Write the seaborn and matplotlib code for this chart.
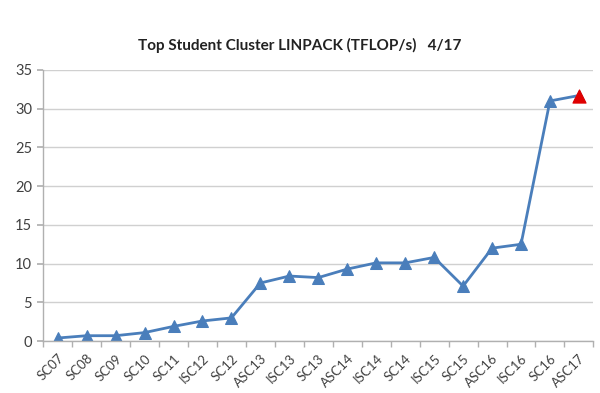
import matplotlib
matplotlib.use("Agg")
import matplotlib.pyplot as plt
import seaborn as sns
import pandas as pd
import numpy as np

competitions = ["SC07", "SC08", "SC09", "SC10", "SC11", "ISC12", "SC12", "ASC13", "ISC13",
                "SC13", "ASC14", "ISC14", "SC14", "ISC15", "SC15", "ASC16", "ISC16", "SC16", "ASC17"]
tflops = [0.4, 0.7, 0.7, 1.1, 1.9, 2.6, 3.0, 7.5, 8.4, 8.2, 9.3, 10.1, 10.1, 10.8, 7.1,
          12.0, 12.5, 31.0, 31.7]
y_ticks = [0, 5, 10, 15, 20, 25, 30, 35]

sns.set_theme(style="white")
plt.rcParams['font.family'] = ['Lato', 'DejaVu Sans']

df = pd.DataFrame({"idx": np.arange(len(competitions)), "comp": competitions, "val": tflops})

fig = plt.figure(figsize=(6.0, 3.93), dpi=100)
ax = fig.add_axes([0.072, 0.132, 0.917, 0.69])

line_color = "#4a7ebb"
sns.lineplot(data=df, x="idx", y="val", ax=ax, color=line_color, linewidth=2.0,
             marker="^", markersize=9, markeredgecolor=line_color, markerfacecolor=line_color)
last = df.iloc[[-1]]
sns.scatterplot(data=last, x="idx", y="val", ax=ax, marker="^", s=90, color="#e00000",
                edgecolor="#e00000", zorder=5)

ax.set_xlim(-0.5, len(competitions) - 0.5)
ax.set_ylim(0, 35)
ax.set_yticks(y_ticks)
ax.set_yticklabels([str(v) for v in y_ticks], fontsize=10.5, color="#404040")
ax.set_xticks(df["idx"])
ax.set_xticklabels(competitions, rotation=45, ha="right", rotation_mode="anchor",
                   fontsize=9.5, color="#404040")
ax.set_xticks(np.arange(-0.5, len(competitions), 1.0), minor=True)
ax.tick_params(axis="x", which="major", length=0, pad=8)
ax.tick_params(axis="x", which="minor", length=4, color="#b0b0b0", direction="out", bottom=True)
ax.tick_params(axis="y", which="major", length=4, color="#b0b0b0", direction="out", left=True, pad=4)

ax.grid(axis="y", color="#d0d0d0", linewidth=1.0)
ax.grid(axis="x", visible=False)
for s in ["top", "right"]:
    ax.spines[s].set_visible(False)
for s in ["left", "bottom"]:
    ax.spines[s].set_color("#b0b0b0")
    ax.spines[s].set_linewidth(1.0)
ax.set_axisbelow(True)
ax.set_xlabel("")
ax.set_ylabel("")

fig.text(0.5, 0.885, "Top Student Cluster LINPACK (TFLOP/s)   4/17", ha="center", va="center",
         fontsize=11, fontweight="bold", color="#222222")

fig.savefig("out.png", dpi=100)
